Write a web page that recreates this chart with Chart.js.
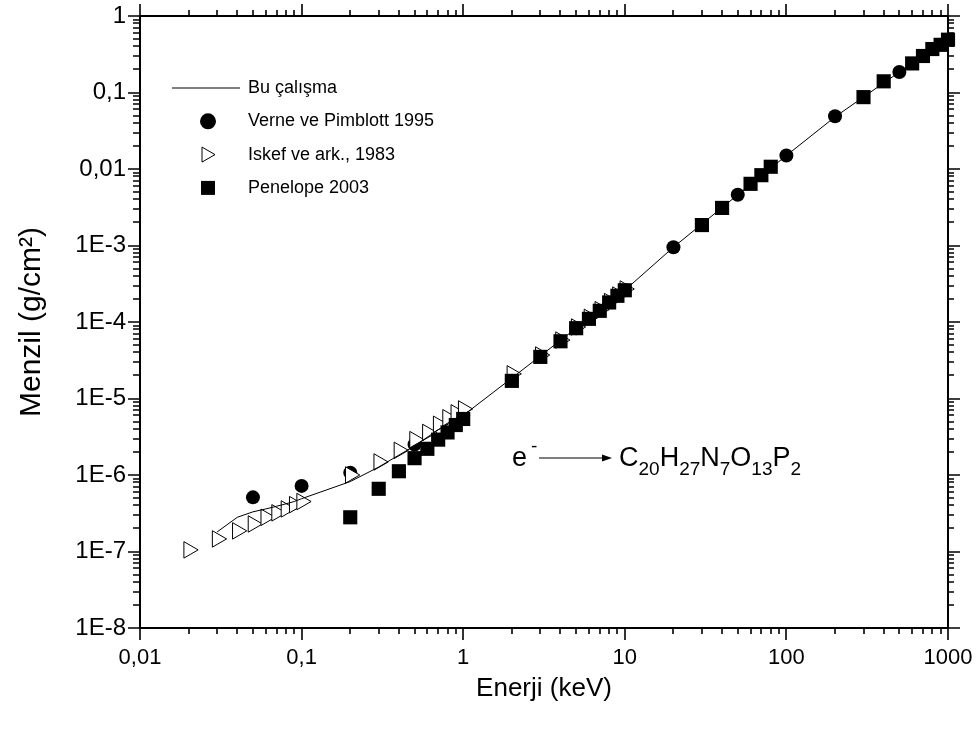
<!DOCTYPE html>
<html>
<head>
<meta charset="utf-8">
<script src="https://cdn.jsdelivr.net/npm/chart.js@4.4.0/dist/chart.umd.min.js"></script>
<style>
  html, body { margin: 0; padding: 0; background: #fff; }
</style>
</head>
<body>
<canvas id="rangeChart" width="979" height="732"></canvas>
<script>
// Bu çalışma (solid line)
const energyThisWork = [0.03, 0.04, 0.05, 0.06, 0.07, 0.08, 0.09, 0.1, 0.2, 0.3, 0.4, 0.5, 0.7, 1, 2, 5, 10, 20, 50, 100, 200, 500, 1000];
const rangeThisWork  = [1.8e-7, 2.8e-7, 3.3e-7, 3.6e-7, 3.9e-7, 4.2e-7, 4.5e-7, 4.9e-7, 8.2e-7, 1.27e-6, 1.82e-6, 2.4e-6, 3.9e-6, 6.0e-6, 1.85e-5, 8.3e-5, 2.6e-4, 9.5e-4, 4.6e-3, 1.5e-2, 4.8e-2, 0.185, 0.49];

// Verne ve Pimblott 1995 (filled circles)
const energyVerne = [0.05, 0.1, 0.2, 0.5, 1, 2, 5, 10, 20, 50, 100, 200, 500];
const rangeVerne  = [5.1e-7, 7.2e-7, 1.07e-6, 2.5e-6, 6.0e-6, 1.8e-5, 8.3e-5, 2.6e-4, 9.5e-4, 4.6e-3, 1.5e-2, 4.9e-2, 0.185];

// Iskef ve ark., 1983 (open triangles)
const energyIskef = [0.02, 0.03, 0.04, 0.05, 0.06, 0.07, 0.08, 0.09, 0.1, 0.2, 0.3, 0.4, 0.5, 0.6, 0.7, 0.8, 0.9, 1, 2, 3, 4, 5, 6, 7, 8, 9, 10];
const rangeIskef  = [1.05e-7, 1.46e-7, 1.86e-7, 2.29e-7, 2.8e-7, 3.2e-7, 3.6e-7, 4.1e-7, 4.5e-7, 1.0e-6, 1.48e-6, 2.1e-6, 2.9e-6, 3.6e-6, 4.6e-6, 5.6e-6, 6.5e-6, 7.3e-6, 2.1e-5, 3.7e-5, 5.8e-5, 8.6e-5, 1.15e-4, 1.45e-4, 1.85e-4, 2.25e-4, 2.7e-4];

// Penelope 2003 (filled squares)
const energyPenelope = [0.2, 0.3, 0.4, 0.5, 0.6, 0.7, 0.8, 0.9, 1, 2, 3, 4, 5, 6, 7, 8, 9, 10, 30, 40, 60, 70, 80, 300, 400, 600, 700, 800, 900, 1000];
const rangePenelope  = [2.8e-7, 6.6e-7, 1.12e-6, 1.66e-6, 2.2e-6, 2.9e-6, 3.6e-6, 4.5e-6, 5.4e-6, 1.7e-5, 3.5e-5, 5.6e-5, 8.3e-5, 1.1e-4, 1.4e-4, 1.8e-4, 2.2e-4, 2.6e-4, 1.85e-3, 3.1e-3, 6.4e-3, 8.3e-3, 1.07e-2, 8.7e-2, 0.14, 0.24, 0.30, 0.37, 0.42, 0.49];

const xTickValues = [0.01, 0.1, 1, 10, 100, 1000];
const xTickLabels = ['0,01', '0,1', '1', '10', '100', '1000'];
const yTickValues = [1e-8, 1e-7, 1e-6, 1e-5, 1e-4, 1e-3, 0.01, 0.1, 1];
const yTickLabels = ['1E-8', '1E-7', '1E-6', '1E-5', '1E-4', '1E-3', '0,01', '0,1', '1'];

const FONT = '"Liberation Sans", Arial, sans-serif';

function toPoints(xs, ys) {
  return xs.map((x, i) => ({ x: x, y: ys[i] }));
}

function minorValues(decades) {
  const out = [];
  for (let i = 0; i < decades.length - 1; i++) {
    for (let m = 2; m <= 9; m++) out.push(decades[i] * m);
  }
  return out;
}

// draws the box, the outward ticks on all four sides, the legend and the e- -> formula note
const framePlugin = {
  id: 'framePlugin',
  afterDraw(chart) {
    const ctx = chart.ctx;
    const a = chart.chartArea;
    const xs = chart.scales.x, ys = chart.scales.y;
    ctx.save();
    ctx.strokeStyle = '#000';
    ctx.lineWidth = 2;
    ctx.strokeRect(a.left, a.top, a.right - a.left, a.bottom - a.top);

    const major = 12, minor = 6;
    ctx.lineWidth = 1.6;
    ctx.beginPath();
    xTickValues.forEach(v => {
      const px = Math.round(xs.getPixelForValue(v));
      ctx.moveTo(px, a.bottom); ctx.lineTo(px, a.bottom + major);
      ctx.moveTo(px, a.top); ctx.lineTo(px, a.top - major);
    });
    minorValues(xTickValues).forEach(v => {
      const px = Math.round(xs.getPixelForValue(v));
      ctx.moveTo(px, a.bottom); ctx.lineTo(px, a.bottom + minor);
      ctx.moveTo(px, a.top); ctx.lineTo(px, a.top - minor);
    });
    yTickValues.forEach(v => {
      const py = Math.round(ys.getPixelForValue(v));
      ctx.moveTo(a.left, py); ctx.lineTo(a.left - major, py);
      ctx.moveTo(a.right, py); ctx.lineTo(a.right + major, py);
    });
    minorValues(yTickValues).forEach(v => {
      const py = Math.round(ys.getPixelForValue(v));
      ctx.moveTo(a.left, py); ctx.lineTo(a.left - minor - 1, py);
      ctx.moveTo(a.right, py); ctx.lineTo(a.right + minor, py);
    });
    ctx.stroke();

    // legend
    const lx = 208, ty = 88, step = 33.3, textX = 248;
    ctx.font = '18px ' + FONT;
    ctx.fillStyle = '#000';
    ctx.textBaseline = 'middle';
    ctx.textAlign = 'left';
    const sets = chart.data.datasets;
    // line
    ctx.lineWidth = 1;
    ctx.beginPath(); ctx.moveTo(172, ty); ctx.lineTo(240, ty); ctx.stroke();
    ctx.fillText(sets[0].label, textX, ty);
    // circle
    ctx.beginPath(); ctx.arc(lx, ty + step, 8, 0, Math.PI * 2); ctx.fill();
    ctx.fillText(sets[1].label, textX, ty + step);
    // triangle
    const t = ty + 2 * step;
    ctx.beginPath();
    ctx.moveTo(lx - 6, t - 7.5); ctx.lineTo(lx + 7, t); ctx.lineTo(lx - 6, t + 7.5); ctx.closePath();
    ctx.fillStyle = '#fff'; ctx.fill(); ctx.stroke();
    ctx.fillStyle = '#000';
    ctx.fillText(sets[2].label, textX, t);
    // square
    ctx.fillRect(lx - 7, ty + 3 * step - 7, 14, 14);
    ctx.fillText(sets[3].label, textX, ty + 3 * step);

    // note: e- -> C20H27N7O13P2
    ctx.textBaseline = 'alphabetic';
    ctx.font = '27px ' + FONT;
    ctx.fillText('e', 512, 466);
    ctx.font = '19px ' + FONT;
    ctx.fillText('-', 531, 452);
    ctx.lineWidth = 1.2;
    ctx.beginPath(); ctx.moveTo(539, 458); ctx.lineTo(604, 458); ctx.stroke();
    ctx.beginPath(); ctx.moveTo(612, 458); ctx.lineTo(602, 454.5); ctx.lineTo(602, 461.5); ctx.closePath(); ctx.fill();
    const parts = [['C', '20'], ['H', '27'], ['N', '7'], ['O', '13'], ['P', '2']];
    let cx = 619;
    parts.forEach(p => {
      ctx.font = '27px ' + FONT;
      ctx.fillText(p[0], cx, 466);
      cx += ctx.measureText(p[0]).width;
      ctx.font = '19px ' + FONT;
      ctx.fillText(p[1], cx, 475);
      cx += ctx.measureText(p[1]).width;
    });
    ctx.restore();
  }
};

const ctx = document.getElementById('rangeChart').getContext('2d');
const rangeChart = new Chart(ctx, {
  type: 'scatter',
  data: {
    datasets: [
      {
        type: 'line',
        label: 'Bu çalışma',
        data: toPoints(energyThisWork, rangeThisWork),
        borderColor: '#000',
        borderWidth: 1,
        pointRadius: 0,
        fill: false,
        tension: 0,
        clip: false,
        order: 0
      },
      {
        label: 'Verne ve Pimblott 1995',
        data: toPoints(energyVerne, rangeVerne),
        pointStyle: 'circle',
        pointRadius: 7,
        backgroundColor: '#000',
        borderColor: '#000',
        borderWidth: 0,
        clip: false,
        order: 3
      },
      {
        label: 'Iskef ve ark., 1983',
        data: toPoints(energyIskef, rangeIskef),
        pointStyle: 'triangle',
        rotation: 90,
        pointRadius: 9.5,
        backgroundColor: '#fff',
        borderColor: '#000',
        borderWidth: 1,
        clip: false,
        order: 2
      },
      {
        label: 'Penelope 2003',
        data: toPoints(energyPenelope, rangePenelope),
        pointStyle: 'rect',
        pointRadius: 10,
        backgroundColor: '#000',
        borderColor: '#000',
        borderWidth: 0,
        clip: false,
        order: 1
      }
    ]
  },
  options: {
    responsive: false,
    animation: false,
    devicePixelRatio: 1,
    layout: { padding: { top: 16, right: 31, left: 0, bottom: 0 } },
    plugins: {
      legend: { display: false },
      tooltip: { enabled: false }
    },
    scales: {
      x: {
        type: 'logarithmic',
        position: 'bottom',
        min: 0.01,
        max: 1000,
        afterBuildTicks: s => { s.ticks = xTickValues.map(v => ({ value: v })); },
        afterFit: s => { s.height = 104; s.paddingLeft = 0; s.paddingRight = 0; },
        grid: { display: false, drawTicks: false },
        border: { display: false },
        ticks: {
          autoSkip: false,
          maxRotation: 0,
          padding: 17,
          color: '#000',
          font: { family: FONT, size: 22 },
          callback: (v, i) => xTickLabels[i]
        },
        title: {
          display: true,
          text: 'Enerji (keV)',
          color: '#000',
          font: { family: FONT, size: 26, lineHeight: 1 },
          padding: { top: 0, bottom: 30 }
        }
      },
      y: {
        type: 'logarithmic',
        position: 'left',
        min: 1e-8,
        max: 1,
        afterBuildTicks: s => { s.ticks = yTickValues.map(v => ({ value: v })); },
        afterFit: s => { s.width = 140; s.paddingTop = 0; s.paddingBottom = 0; },
        grid: { display: false, drawTicks: false },
        border: { display: false },
        ticks: {
          autoSkip: false,
          padding: 14,
          color: '#000',
          font: { family: FONT, size: 24 },
          callback: (v, i) => yTickLabels[i]
        },
        title: {
          display: true,
          text: 'Menzil (g/cm²)',
          color: '#000',
          font: { family: FONT, size: 30, lineHeight: 1 },
          padding: { top: 17, bottom: 0 }
        }
      }
    }
  },
  plugins: [framePlugin]
});
</script>
</body>
</html>
